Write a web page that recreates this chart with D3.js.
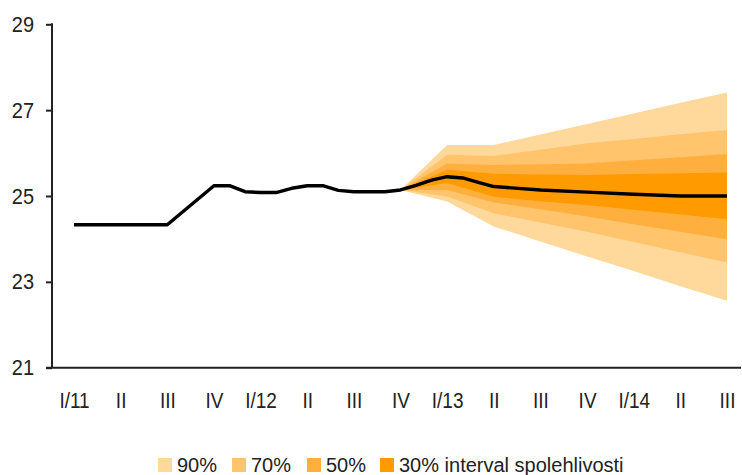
<!DOCTYPE html>
<html>
<head>
<meta charset="utf-8">
<script src="https://cdn.jsdelivr.net/npm/d3@7"></script>
<style>
  body { margin: 0; background: #fff; }
  svg { display: block; font-family: "Liberation Sans", Arial, sans-serif; }
</style>
</head>
<body>
<svg id="chart" width="742" height="475"></svg>
<script>
// quarter labels on the x axis (one per quarter, months 0,3,...,42)
var quarterLabels = ["I/11","II","III","IV","I/12","II","III","IV","I/13","II","III","IV","I/14","II","III"];

// actual values (month index from I/2011)
var histMonth = [0, 6, 9, 10, 11, 12, 13, 14, 15, 16, 17, 18, 19, 20, 21];
var histValue = [24.33, 24.33, 25.24, 25.24, 25.10, 25.08, 25.08, 25.18, 25.24, 25.24, 25.13, 25.10, 25.10, 25.10, 25.14];

// forecast centre line
var fcMonth = [21, 22, 23, 24, 25, 26, 27, 30, 33, 36, 39, 42];
var fcValue = [25.14, 25.25, 25.37, 25.45, 25.42, 25.32, 25.22, 25.14, 25.09, 25.04, 25.00, 25.00];

// fan chart bounds, per quarter from IV/12 to III/14
var fanMonth = [21, 24, 27, 30, 33, 36, 39, 42];
var hi90 = [25.14, 26.19, 26.19, 26.43, 26.68, 26.92, 27.17, 27.41];
var lo90 = [25.14, 24.87, 24.29, 23.94, 23.59, 23.25, 22.90, 22.56];
var hi70 = [25.14, 25.96, 25.93, 26.08, 26.23, 26.33, 26.44, 26.54];
var lo70 = [25.14, 24.99, 24.60, 24.38, 24.17, 23.93, 23.69, 23.45];
var hi50 = [25.14, 25.76, 25.72, 25.74, 25.76, 25.83, 25.90, 25.98];
var lo50 = [25.14, 25.14, 24.85, 24.69, 24.52, 24.34, 24.17, 23.99];
var hi30 = [25.14, 25.61, 25.52, 25.50, 25.49, 25.51, 25.53, 25.55];
var lo30 = [25.14, 25.30, 24.98, 24.88, 24.79, 24.68, 24.57, 24.46];

var bandNames = ["90%", "70%", "50%", "30% interval spolehlivosti"];
var bandColors = ["#FFD89B", "#FFC46C", "#FFAF3E", "#FF9A00"];

var svg = d3.select("#chart");

var x = d3.scaleLinear().domain([0, 42]).range([74, 727]);
var y = d3.scaleLinear().domain([21, 29]).range([367.7, 24.3]);

// fan bands
var bands = [[lo90, hi90], [lo70, hi70], [lo50, hi50], [lo30, hi30]];
var area = d3.area()
  .x(function(d) { return x(d.m); })
  .y0(function(d) { return y(d.lo); })
  .y1(function(d) { return y(d.hi); });

bands.forEach(function(b, i) {
  var pts = fanMonth.map(function(m, j) { return { m: m, lo: b[0][j], hi: b[1][j] }; });
  svg.append("path")
    .datum(pts)
    .attr("d", area)
    .attr("fill", bandColors[i]);
});

// line
var line = d3.line()
  .x(function(d) { return x(d[0]); })
  .y(function(d) { return y(d[1]); });

var lineData = histMonth.map(function(m, i) { return [m, histValue[i]]; })
  .concat(fcMonth.slice(1).map(function(m, i) { return [m, fcValue[i + 1]]; }));

svg.append("path")
  .datum(lineData)
  .attr("d", line)
  .attr("fill", "none")
  .attr("stroke", "#000")
  .attr("stroke-width", 3.4)
  .attr("stroke-linejoin", "round");

// Y axis
var yAxis = svg.append("g")
  .attr("transform", "translate(52,0)")
  .call(d3.axisLeft(y).tickValues([21, 23, 25, 27, 29]).tickSize(6).tickPadding(12).tickFormat(d3.format("d")));
yAxis.select(".domain").remove();
yAxis.selectAll(".tick line").attr("stroke", "#222").attr("stroke-width", 2);
yAxis.selectAll("text").attr("font-size", 20).attr("fill", "#222")
  .attr("font-family", "Liberation Sans, Arial, sans-serif")
  .attr("transform", "scale(1,1.1)");
svg.append("line")
  .attr("x1", 52).attr("x2", 52)
  .attr("y1", y(29) - 1).attr("y2", y(21))
  .attr("stroke", "#222").attr("stroke-width", 2);

// X axis
var xAxis = svg.append("g")
  .attr("transform", "translate(0," + y(21) + ")")
  .call(d3.axisBottom(x)
    .tickValues(d3.range(0, 43, 3))
    .tickSize(0)
    .tickPadding(20)
    .tickFormat(function(d, i) { return quarterLabels[i]; }));
xAxis.select(".domain").remove();
xAxis.selectAll("text").attr("font-size", 19).attr("fill", "#222")
  .attr("font-family", "Liberation Sans, Arial, sans-serif")
  .attr("transform", "scale(1,1.2)");
svg.append("line")
  .attr("x1", 46).attr("x2", 741)
  .attr("y1", y(21)).attr("y2", y(21))
  .attr("stroke", "#222").attr("stroke-width", 2);

// legend
var legendX = [158, 232, 307, 380];
var legend = svg.append("g");
bandNames.forEach(function(name, i) {
  legend.append("rect")
    .attr("x", legendX[i]).attr("y", 458)
    .attr("width", 14).attr("height", 14)
    .attr("fill", bandColors[i]);
  legend.append("text")
    .attr("x", legendX[i] + 19).attr("y", 472)
    .attr("font-size", 20)
    .attr("fill", "#222")
    .text(name);
});
</script>
</body>
</html>
